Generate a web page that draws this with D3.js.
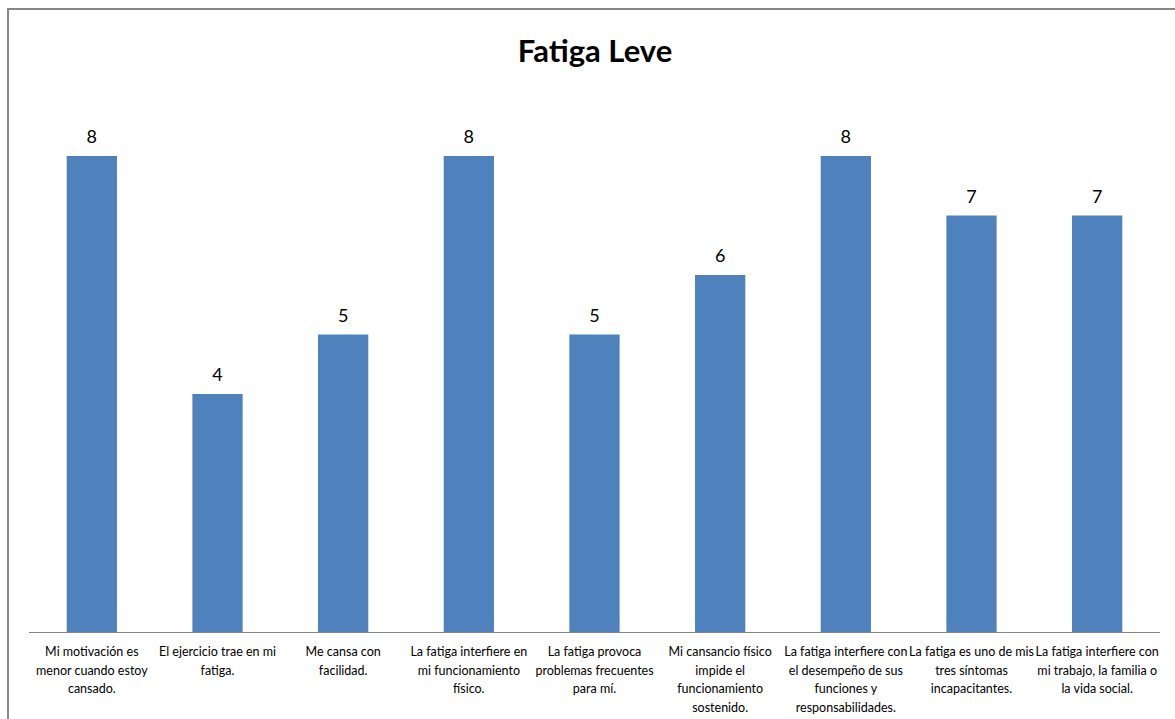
<!DOCTYPE html>
<html>
<head>
<meta charset="utf-8">
<script src="https://cdn.jsdelivr.net/npm/d3@7"></script>
<style>
  html, body { margin: 0; padding: 0; background: #fff; overflow: hidden; }
  svg { display: block; }
</style>
</head>
<body>
<svg id="chart" width="1175" height="719"></svg>
<script>
// Categories (explicit line breaks for the axis labels)
const categories = [
  "Mi motivación es\nmenor cuando estoy\ncansado.",
  "El ejercicio trae en mi\nfatiga.",
  "Me cansa con\nfacilidad.",
  "La fatiga interfiere en\nmi funcionamiento\nfísico.",
  "La fatiga provoca\nproblemas frecuentes\npara mí.",
  "Mi cansancio físico\nimpide el\nfuncionamiento\nsostenido.",
  "La fatiga interfiere con\nel desempeño de sus\nfunciones y\nresponsabilidades.",
  "La fatiga es uno de mis\ntres síntomas\nincapacitantes.",
  "La fatiga interfiere con\nmi trabajo, la familia o\nla vida social."
];
const values = [8, 4, 5, 8, 5, 6, 8, 7, 7];
const title = "Fatiga Leve";

const svg = d3.select("#chart");
const W = 1175, H = 719;

// Chart frame (only top and left edges fall inside the view)
svg.append("rect")
  .attr("x", 8).attr("y", 9)
  .attr("width", W + 20).attr("height", H + 20)
  .attr("fill", "#fff")
  .attr("stroke", "#868686")
  .attr("stroke-width", 2);

const plot = { left: 29, right: 1160, bottom: 632 };

const x = d3.scaleBand()
  .domain(d3.range(categories.length))
  .range([plot.left, plot.right])
  .paddingInner(0.6)
  .paddingOuter(0.3);

const y = d3.scaleLinear()
  .domain([0, 8])
  .range([plot.bottom, 156]);

// Title
svg.append("text")
  .attr("x", 595).attr("y", 62)
  .attr("text-anchor", "middle")
  .attr("font-family", "Lato, 'Open Sans', sans-serif")
  .attr("font-weight", "bold")
  .attr("font-size", 31)
  .attr("fill", "#000")
  .text(title);

// Bars
svg.append("g").selectAll("rect")
  .data(values)
  .join("rect")
  .attr("x", (d, i) => x(i))
  .attr("width", x.bandwidth())
  .attr("y", d => y(d))
  .attr("height", d => y(0) - y(d))
  .attr("fill", "#4F81BD");

// Value labels
svg.append("g").selectAll("text")
  .data(values)
  .join("text")
  .attr("x", (d, i) => x(i) + x.bandwidth() / 2)
  .attr("y", d => y(d) - 13)
  .attr("text-anchor", "middle")
  .attr("font-family", "Lato, 'Open Sans', sans-serif")
  .attr("font-size", 18)
  .attr("fill", "#000")
  .text(d => d);

// Category axis
const axis = d3.axisBottom(x).tickSize(0).tickFormat("");
const gAxis = svg.append("g")
  .attr("transform", `translate(0,${plot.bottom})`)
  .call(axis);
gAxis.select(".domain")
  .attr("stroke", "#868686")
  .attr("d", `M${plot.left},0.5H${plot.right}`);

const labels = svg.append("g").selectAll("text")
  .data(categories)
  .join("text")
  .attr("text-anchor", "middle")
  .attr("font-family", "Lato, 'Open Sans', sans-serif")
  .attr("font-size", 12.5)
  .attr("fill", "#000")
  .attr("transform", (d, i) => `translate(${x(i) + x.bandwidth() / 2},656)`);

labels.selectAll("tspan")
  .data(d => d.split("\n"))
  .join("tspan")
  .attr("x", 0)
  .attr("y", (d, j) => j * 18.7)
  .text(d => d);
</script>
</body>
</html>
